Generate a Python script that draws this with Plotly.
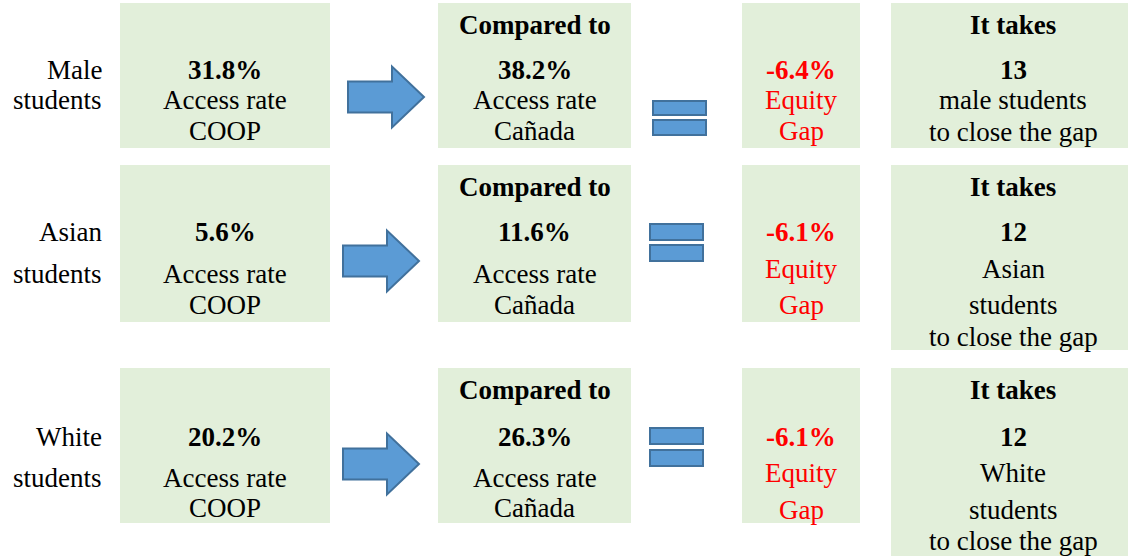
import plotly.graph_objects as go

# ---------------- data ----------------
groups = ["Male", "Asian", "White"]
coop_rate = [31.8, 5.6, 20.2]
canada_rate = [38.2, 11.6, 26.3]
equity_gap = [-6.4, -6.1, -6.1]
students_needed = [13, 12, 12]
takes_lines = [["male students"], ["Asian", "students"], ["White", "students"]]

# ---------------- layout geometry (pixels) ----------------
W, H = 1128, 556
FONT = "Liberation Serif"
FS = 27
GREEN = "#E2EFDA"
BLUE = "#5B9BD5"
BLUE_LINE = "#41719C"
RED = "#FF0000"

box_a = (120, 330)
box_b = (438, 631)
box_c = (742, 860)
box_d = (891, 1128)
cx_d = 1013
row_top = [3, 165, 368]
row_bottom = [148, 322, 523]
d_bottom = [148, 350, 556]
y_header = [25, 187, 390]
y_value = [70, 232, 437]
y_access = [100, 274, 478]
y_coop = [131, 305, 508]
y_equity = [100, 269, 473]
y_gap = [131, 305, 510]
y_takes = [[100, 132], [269, 305, 337], [473, 510, 541]]
y_label = [[70, 100], [232, 274], [437, 478]]
arrow_x = [348, 343, 343]
arrow_cy = [97, 261, 464]
eq_x = [(653, 706), (650, 703), (650, 703)]
eq_bars = [[(101, 115), (120, 135)], [(224, 240), (245, 261)], [(428, 444), (450, 466)]]

fig = go.Figure()
shapes = []
annotations = []


def txt(x, y, s, bold=False, color="black", anchor="center"):
    annotations.append(dict(
        x=x, y=y, xref="x", yref="y", text=(f"<b>{s}</b>" if bold else s),
        showarrow=False, xanchor=anchor, yanchor="middle",
        font=dict(family=FONT, size=FS, color=color),
    ))


def rect(x0, x1, y0, y1, fill, line=None):
    shapes.append(dict(
        type="rect", xref="x", yref="y", x0=x0, x1=x1, y0=y0, y1=y1,
        fillcolor=fill, line=dict(width=(2 if line else 0), color=line or fill),
        layer="below",
    ))


for i, g in enumerate(groups):
    t, b = row_top[i], row_bottom[i]
    rect(*box_a, t, b, GREEN)
    rect(*box_b, t, b, GREEN)
    rect(*box_c, t, b, GREEN)
    rect(box_d[0], box_d[1], t, d_bottom[i], GREEN)

    # left label
    txt(104, y_label[i][0], g, anchor="right")
    txt(104, y_label[i][1], "students", anchor="right")

    ca = (box_a[0] + box_a[1]) / 2
    cb = (box_b[0] + box_b[1]) / 2
    cc = (box_c[0] + box_c[1]) / 2
    cd = cx_d

    txt(ca, y_value[i], f"{coop_rate[i]:.1f}%", bold=True)
    txt(ca, y_access[i], "Access rate")
    txt(ca, y_coop[i], "COOP")

    txt(cb, y_header[i], "Compared to", bold=True)
    txt(cb, y_value[i], f"{canada_rate[i]:.1f}%", bold=True)
    txt(cb, y_access[i], "Access rate")
    txt(cb, y_coop[i], "Cañada")

    txt(cc, y_value[i], f"{equity_gap[i]:.1f}%", bold=True, color=RED)
    txt(cc, y_equity[i], "Equity", color=RED)
    txt(cc, y_gap[i], "Gap", color=RED)

    txt(cd, y_header[i], "It takes", bold=True)
    txt(cd, y_value[i], f"{students_needed[i]}", bold=True)
    lines = takes_lines[i] + ["to close the gap"]
    for yy, s in zip(y_takes[i], lines):
        txt(cd, yy, s)

    # arrow
    x0 = arrow_x[i]
    cy = arrow_cy[i]
    L, hx, sh, hh = 76, 44, 15.5, 30.5
    path = (f"M {x0},{cy - sh} L {x0 + hx},{cy - sh} L {x0 + hx},{cy - hh} "
            f"L {x0 + L},{cy} L {x0 + hx},{cy + hh} L {x0 + hx},{cy + sh} "
            f"L {x0},{cy + sh} Z")
    shapes.append(dict(type="path", xref="x", yref="y", path=path,
                       fillcolor=BLUE, line=dict(color=BLUE_LINE, width=2)))

    # equal sign
    ex0, ex1 = eq_x[i]
    for (y0, y1) in eq_bars[i]:
        shapes.append(dict(type="rect", xref="x", yref="y", x0=ex0, x1=ex1,
                           y0=y0, y1=y1, fillcolor=BLUE,
                           line=dict(color=BLUE_LINE, width=2)))

fig.update_layout(
    width=W, height=H,
    margin=dict(l=0, r=0, t=0, b=0),
    paper_bgcolor="white", plot_bgcolor="white",
    xaxis=dict(range=[0, W], visible=False, fixedrange=True),
    yaxis=dict(range=[H, 0], visible=False, fixedrange=True),
    shapes=shapes, annotations=annotations,
    showlegend=False,
)

fig.write_html(
    "out.html",
    config={"displayModeBar": False},
    post_script="document.body.style.margin='0';document.body.style.overflow='hidden';",
)
